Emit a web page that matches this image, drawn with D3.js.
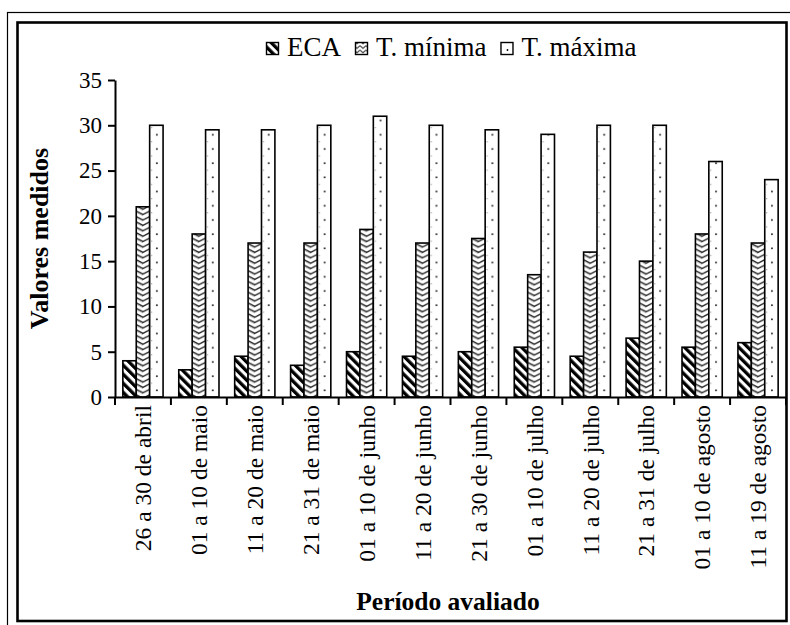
<!DOCTYPE html>
<html><head><meta charset="utf-8">
<script src="https://cdn.jsdelivr.net/npm/d3@7"></script>
<style>html,body{margin:0;padding:0;background:#fff;}svg{display:block;}
svg text{font-family:"Liberation Serif","Times New Roman",Times,serif;}</style>
</head><body>
<script>
const categories = ["26 a 30 de abril","01 a 10 de maio","11 a 20 de maio","21 a 31 de maio","01 a 10 de junho","11 a 20 de junho","21 a 30 de junho","01 a 10 de julho","11 a 20 de julho","21 a 31 de julho","01 a 10 de agosto","11 a 19 de agosto"];
const seriesNames = ["ECA","T. mínima","T. máxima"];
const eca =    [4, 3, 4.5, 3.5, 5, 4.5, 5, 5.5, 4.5, 6.5, 5.5, 6];
const tMinima = [21, 18, 17, 17, 18.5, 17, 17.5, 13.5, 16, 15, 18, 17];
const tMaxima = [30, 29.5, 29.5, 30, 31, 30, 29.5, 29, 30, 30, 26, 24];
const yTicks = [0,5,10,15,20,25,30,35];
const yTitle = "Valores medidos";
const xTitle = "Período avaliado";

const W = 790, H = 625;
const svg = d3.select("body").append("svg").attr("width", W).attr("height", H);

const x0 = d3.scaleBand().domain(categories).range([115, 786]).paddingInner(0).paddingOuter(0);
const x1 = d3.scaleBand().domain(seriesNames).range([0, x0.bandwidth()]).paddingInner(0).paddingOuter(0.585);
const y = d3.scaleLinear().domain([0, 35]).range([397, 80]);

const defs = svg.append("defs");
const pE = defs.append("pattern").attr("id","pEca").attr("patternUnits","userSpaceOnUse")
  .attr("width",6.4).attr("height",6.4).attr("patternTransform","rotate(-45)");
pE.append("rect").attr("width",6.4).attr("height",6.4).attr("fill","#fff");
pE.append("rect").attr("width",3.3).attr("height",6.4).attr("fill","#000");

const bw = x1.bandwidth();
const minOff = x1("T. mínima");
const pMin = defs.append("pattern").attr("id","pMin").attr("patternUnits","userSpaceOnUse")
  .attr("x", x0.range()[0]).attr("y", 0).attr("width", x0.step()).attr("height", 5.4);
pMin.append("rect").attr("width", x0.step()).attr("height",5.4).attr("fill","#fff");
pMin.append("path").attr("d",`M${minOff},0.6 L${minOff+bw/2},4 L${minOff+bw},0.6`)
  .attr("fill","none").attr("stroke","#222").attr("stroke-width",1.4);
pMin.append("path").attr("d",`M${minOff},1.8 L${minOff+bw/2},5.2`)
  .attr("fill","none").attr("stroke","#999").attr("stroke-width",0.7);

const maxOff = x1("T. máxima");
const pMax = defs.append("pattern").attr("id","pMax").attr("patternUnits","userSpaceOnUse")
  .attr("x", x0.range()[0]).attr("y", 2).attr("width", x0.step()).attr("height", 14.2);
pMax.append("rect").attr("width", x0.step()).attr("height",14.2).attr("fill","#fff");
pMax.append("circle").attr("cx", maxOff + bw/2 + 0.5).attr("cy", 5).attr("r", 1).attr("fill","#222");
pMax.append("circle").attr("cx", maxOff + 2).attr("cy", 12).attr("r", 0.6).attr("fill","#888");

const pMaxL = defs.append("pattern").attr("id","pMaxL").attr("patternUnits","userSpaceOnUse")
  .attr("width",8).attr("height",8);
pMaxL.append("rect").attr("width",8).attr("height",8).attr("fill","#fff");
const pMinL = defs.append("pattern").attr("id","pMinL").attr("patternUnits","userSpaceOnUse")
  .attr("width",6).attr("height",4.5);
pMinL.append("rect").attr("width",6).attr("height",4.5).attr("fill","#fff");
pMinL.append("path").attr("d","M0,0.6 L3,3.4 L6,0.6").attr("fill","none").attr("stroke","#333").attr("stroke-width",1.1);

svg.append("rect").attr("x",7.5).attr("y",12.5).attr("width",900).attr("height",900)
  .attr("fill","none").attr("stroke","#000").attr("stroke-width",1.2);
svg.append("rect").attr("x",17.5).attr("y",22.5).attr("width",769).attr("height",598.5)
  .attr("fill","#fff").attr("stroke","#000").attr("stroke-width",2.6);

const fills = {"ECA":"url(#pEca)","T. mínima":"url(#pMin)","T. máxima":"url(#pMax)"};
const seriesVals = {"ECA":eca,"T. mínima":tMinima,"T. máxima":tMaxima};
const rows = [];
categories.forEach((c,i)=>seriesNames.forEach(s=>rows.push({c, s, v: seriesVals[s][i]})));
svg.append("g").selectAll("rect").data(rows).join("rect")
  .attr("x", d => x0(d.c) + x1(d.s))
  .attr("y", d => y(d.v))
  .attr("width", bw)
  .attr("height", d => y(0) - y(d.v))
  .attr("fill", d => fills[d.s])
  .attr("stroke","#000").attr("stroke-width",1.6);

const yAxis = svg.append("g").attr("transform","translate(115,0)")
  .call(d3.axisLeft(y).tickValues(yTicks).tickSize(7).tickPadding(6).tickSizeOuter(0));
yAxis.attr("font-family",null).attr("font-size",null);
yAxis.select(".domain").attr("stroke","#000").attr("stroke-width",2);
yAxis.selectAll(".tick line").attr("stroke","#000").attr("stroke-width",2);
yAxis.selectAll(".tick text").style("font-size","23px").attr("fill","#000");

const xAxis = svg.append("g").attr("transform","translate(0,397)")
  .call(d3.axisBottom(x0).tickSize(0).tickPadding(8));
xAxis.attr("font-family",null).attr("font-size",null);
xAxis.select(".domain").attr("stroke","#000").attr("stroke-width",2);
xAxis.selectAll(".tick line").remove();
xAxis.selectAll(".tick text")
  .style("font-size","23.5px").attr("fill","#000")
  .attr("text-anchor","end").attr("dy","0.35em")
  .attr("transform","translate(0,8) rotate(-90)").attr("x",0).attr("y",0);
const bounds = categories.map(c => x0(c)).concat([x0.range()[1]]);
svg.append("g").selectAll("line").data(bounds).join("line")
  .attr("x1", d=>d).attr("x2", d=>d).attr("y1",397).attr("y2",405)
  .attr("stroke","#000").attr("stroke-width",2);

svg.append("text").attr("transform",`translate(48,${(y(0)+y(35))/2}) rotate(-90)`)
  .attr("text-anchor","middle").style("font-weight","bold")
  .style("font-size","26px").text(yTitle);
svg.append("text").attr("x",448).attr("y",610).attr("text-anchor","middle")
  .style("font-weight","bold").style("font-size","25.5px").text(xTitle);

const legFills = {"ECA":"url(#pEca)","T. mínima":"url(#pMinL)","T. máxima":"url(#pMaxL)"};
const leg = svg.append("g");
let lx = 266;
seriesNames.forEach(s => {
  leg.append("rect").attr("x", lx+0.5).attr("y", 42.5).attr("width",12).attr("height",12)
    .attr("fill", legFills[s]).attr("stroke","#000").attr("stroke-width",1.4);
  if (s === "T. máxima") leg.append("circle").attr("cx",lx+7).attr("cy",50).attr("r",0.9).attr("fill","#000");
  const t = leg.append("text").attr("x", lx+21).attr("y",56).style("font-size","27px").text(s);
  lx += 21 + t.node().getComputedTextLength() + 14;
});
</script>
</body></html>
